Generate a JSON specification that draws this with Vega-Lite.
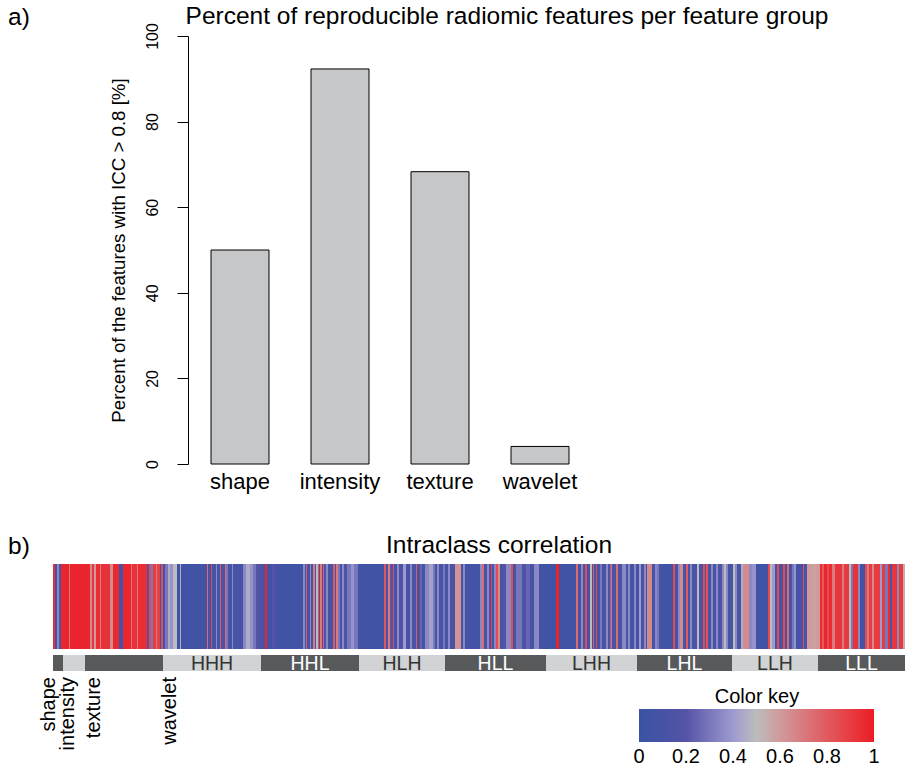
{
  "$schema": "https://vega.github.io/schema/vega-lite/v6.json",
  "padding": {"left": 8, "top": 4, "right": 0, "bottom": 0},
  "autosize": {"type": "pad"},
  "background": "white",
  "spacing": 41,
  "config": {"font": "Liberation Sans", "view": {"stroke": null}},
  "datasets": {
    "bars": [
      {"group": "shape", "pct": 50.0},
      {"group": "intensity", "pct": 92.3},
      {"group": "texture", "pct": 68.3},
      {"group": "wavelet", "pct": 4.1}
    ],
    "groups": [
      {"name": "shape", "s": 0, "e": 10, "mid": 5, "shade": "dark"},
      {"name": "intensity", "s": 10, "e": 32, "mid": 21, "shade": "light"},
      {"name": "texture", "s": 32, "e": 110, "mid": 71, "shade": "dark"},
      {"name": "HHH", "s": 110, "e": 208, "mid": 159, "shade": "light"},
      {"name": "HHL", "s": 208, "e": 306, "mid": 257, "shade": "dark"},
      {"name": "HLH", "s": 306, "e": 392, "mid": 349, "shade": "light"},
      {"name": "HLL", "s": 392, "e": 493, "mid": 442.5, "shade": "dark"},
      {"name": "LHH", "s": 493, "e": 584, "mid": 538.5, "shade": "light"},
      {"name": "LHL", "s": 584, "e": 679, "mid": 631.5, "shade": "dark"},
      {"name": "LLH", "s": 679, "e": 765, "mid": 722, "shade": "light"},
      {"name": "LLL", "s": 765, "e": 852, "mid": 808.5, "shade": "dark"}
    ],
    "cats": [
      {"name": "shape", "pos": -4},
      {"name": "intensity", "pos": 15},
      {"name": "texture", "pos": 41},
      {"name": "wavelet", "pos": 117}
    ],
    "icc": [
      {"s":0,"e":2,"icc":0.95},{"s":2,"e":4,"icc":0.08},{"s":4,"e":6,"icc":0.35},{"s":6,"e":8,"icc":0.1},
      {"s":8,"e":16,"icc":0.97},{"s":16,"e":17,"icc":0.7},{"s":17,"e":37,"icc":0.97},{"s":37,"e":39,"icc":0.65},
      {"s":39,"e":41,"icc":0.92},{"s":41,"e":43,"icc":0.6},{"s":43,"e":47,"icc":0.95},{"s":47,"e":48,"icc":0.7},
      {"s":48,"e":57,"icc":0.93},{"s":57,"e":60,"icc":0.65},{"s":60,"e":66,"icc":0.96},{"s":66,"e":70,"icc":0.06},
      {"s":70,"e":78,"icc":0.97},{"s":78,"e":79,"icc":0.72},{"s":79,"e":84,"icc":0.93},{"s":84,"e":85,"icc":0.7},
      {"s":85,"e":94,"icc":0.95},{"s":94,"e":96,"icc":0.15},{"s":96,"e":98,"icc":0.85},{"s":98,"e":100,"icc":0.3},
      {"s":100,"e":103,"icc":0.9},{"s":103,"e":104,"icc":0.7},{"s":104,"e":107,"icc":0.88},{"s":107,"e":108,"icc":0.1},
      {"s":108,"e":110,"icc":0.85},{"s":110,"e":112,"icc":0.08},{"s":112,"e":115,"icc":0.3},{"s":115,"e":117,"icc":0.45},
      {"s":117,"e":120,"icc":0.38},{"s":120,"e":124,"icc":0.5},{"s":124,"e":127,"icc":0.06},{"s":127,"e":128,"icc":0.45},
      {"s":128,"e":154,"icc":0.05},{"s":154,"e":155,"icc":0.75},{"s":155,"e":158,"icc":0.08},{"s":158,"e":159,"icc":0.85},
      {"s":159,"e":163,"icc":0.1},{"s":163,"e":164,"icc":0.35},{"s":164,"e":167,"icc":0.1},{"s":167,"e":168,"icc":0.8},
      {"s":168,"e":172,"icc":0.12},{"s":172,"e":173,"icc":0.75},{"s":173,"e":175,"icc":0.3},{"s":175,"e":179,"icc":0.1},
      {"s":179,"e":180,"icc":0.35},{"s":180,"e":190,"icc":0.1},{"s":190,"e":193,"icc":0.35},{"s":193,"e":197,"icc":0.45},
      {"s":197,"e":200,"icc":0.38},{"s":200,"e":203,"icc":0.3},{"s":203,"e":207,"icc":0.2},{"s":207,"e":212,"icc":0.1},
      {"s":212,"e":214,"icc":0.97},{"s":214,"e":219,"icc":0.06},{"s":219,"e":222,"icc":0.2},{"s":222,"e":250,"icc":0.06},
      {"s":250,"e":252,"icc":0.35},{"s":252,"e":253,"icc":0.1},{"s":253,"e":254,"icc":0.8},{"s":254,"e":257,"icc":0.1},
      {"s":257,"e":258,"icc":0.35},{"s":258,"e":260,"icc":0.1},{"s":260,"e":262,"icc":0.7},{"s":262,"e":263,"icc":0.1},
      {"s":263,"e":265,"icc":0.5},{"s":265,"e":266,"icc":0.85},{"s":266,"e":267,"icc":0.1},{"s":267,"e":269,"icc":0.7},
      {"s":269,"e":270,"icc":0.1},{"s":270,"e":271,"icc":0.8},{"s":271,"e":273,"icc":0.2},{"s":273,"e":275,"icc":0.35},
      {"s":275,"e":280,"icc":0.1},{"s":280,"e":282,"icc":0.8},{"s":282,"e":283,"icc":0.1},{"s":283,"e":285,"icc":0.7},
      {"s":285,"e":287,"icc":0.3},{"s":287,"e":289,"icc":0.1},{"s":289,"e":291,"icc":0.35},{"s":291,"e":294,"icc":0.15},
      {"s":294,"e":298,"icc":0.3},{"s":298,"e":301,"icc":0.38},{"s":301,"e":305,"icc":0.3},{"s":305,"e":331,"icc":0.05},
      {"s":331,"e":333,"icc":0.82},{"s":333,"e":335,"icc":0.1},{"s":335,"e":337,"icc":0.7},{"s":337,"e":340,"icc":0.2},
      {"s":340,"e":341,"icc":0.85},{"s":341,"e":344,"icc":0.1},{"s":344,"e":346,"icc":0.35},{"s":346,"e":350,"icc":0.15},
      {"s":350,"e":353,"icc":0.4},{"s":353,"e":357,"icc":0.1},{"s":357,"e":359,"icc":0.35},{"s":359,"e":363,"icc":0.12},
      {"s":363,"e":364,"icc":0.8},{"s":364,"e":367,"icc":0.1},{"s":367,"e":369,"icc":0.25},{"s":369,"e":372,"icc":0.1},
      {"s":372,"e":376,"icc":0.35},{"s":376,"e":380,"icc":0.42},{"s":380,"e":382,"icc":0.3},{"s":382,"e":384,"icc":0.1},
      {"s":384,"e":386,"icc":0.35},{"s":386,"e":390,"icc":0.1},{"s":390,"e":392,"icc":0.3},{"s":392,"e":395,"icc":0.1},
      {"s":395,"e":397,"icc":0.35},{"s":397,"e":402,"icc":0.12},{"s":402,"e":408,"icc":0.62},{"s":408,"e":410,"icc":0.1},
      {"s":410,"e":412,"icc":0.35},{"s":412,"e":427,"icc":0.08},{"s":427,"e":429,"icc":0.35},{"s":429,"e":431,"icc":0.75},
      {"s":431,"e":434,"icc":0.1},{"s":434,"e":436,"icc":0.35},{"s":436,"e":438,"icc":0.1},{"s":438,"e":439,"icc":0.88},
      {"s":439,"e":441,"icc":0.1},{"s":441,"e":443,"icc":0.35},{"s":443,"e":445,"icc":0.85},{"s":445,"e":447,"icc":0.65},
      {"s":447,"e":450,"icc":0.1},{"s":450,"e":453,"icc":0.2},{"s":453,"e":458,"icc":0.35},{"s":458,"e":460,"icc":0.85},
      {"s":460,"e":463,"icc":0.1},{"s":463,"e":469,"icc":0.3},{"s":469,"e":473,"icc":0.15},{"s":473,"e":477,"icc":0.25},
      {"s":477,"e":481,"icc":0.1},{"s":481,"e":486,"icc":0.35},{"s":486,"e":503,"icc":0.06},{"s":503,"e":506,"icc":0.98},
      {"s":506,"e":523,"icc":0.06},{"s":523,"e":525,"icc":0.75},{"s":525,"e":528,"icc":0.1},{"s":528,"e":530,"icc":0.35},
      {"s":530,"e":532,"icc":0.1},{"s":532,"e":534,"icc":0.85},{"s":534,"e":537,"icc":0.1},{"s":537,"e":539,"icc":0.5},
      {"s":539,"e":540,"icc":0.1},{"s":540,"e":541,"icc":0.8},{"s":541,"e":543,"icc":0.1},{"s":543,"e":544,"icc":0.85},
      {"s":544,"e":547,"icc":0.1},{"s":547,"e":549,"icc":0.3},{"s":549,"e":553,"icc":0.1},{"s":553,"e":555,"icc":0.35},
      {"s":555,"e":557,"icc":0.1},{"s":557,"e":558,"icc":0.85},{"s":558,"e":559,"icc":0.35},{"s":559,"e":563,"icc":0.1},
      {"s":563,"e":565,"icc":0.75},{"s":565,"e":569,"icc":0.1},{"s":569,"e":573,"icc":0.35},{"s":573,"e":575,"icc":0.1},
      {"s":575,"e":577,"icc":0.35},{"s":577,"e":581,"icc":0.1},{"s":581,"e":583,"icc":0.35},{"s":583,"e":586,"icc":0.1},
      {"s":586,"e":588,"icc":0.4},{"s":588,"e":591,"icc":0.1},{"s":591,"e":593,"icc":0.35},{"s":593,"e":594,"icc":0.1},
      {"s":594,"e":599,"icc":0.65},{"s":599,"e":602,"icc":0.1},{"s":602,"e":604,"icc":0.35},{"s":604,"e":606,"icc":0.3},
      {"s":606,"e":609,"icc":0.1},{"s":609,"e":620,"icc":0.06},{"s":620,"e":622,"icc":0.85},{"s":622,"e":625,"icc":0.1},
      {"s":625,"e":627,"icc":0.35},{"s":627,"e":630,"icc":0.65},{"s":630,"e":633,"icc":0.1},{"s":633,"e":635,"icc":0.8},
      {"s":635,"e":637,"icc":0.1},{"s":637,"e":639,"icc":0.35},{"s":639,"e":644,"icc":0.1},{"s":644,"e":646,"icc":0.5},
      {"s":646,"e":650,"icc":0.1},{"s":650,"e":652,"icc":0.85},{"s":652,"e":653,"icc":0.1},{"s":653,"e":655,"icc":0.82},
      {"s":655,"e":658,"icc":0.1},{"s":658,"e":660,"icc":0.35},{"s":660,"e":663,"icc":0.1},{"s":663,"e":665,"icc":0.35},
      {"s":665,"e":669,"icc":0.15},{"s":669,"e":671,"icc":0.35},{"s":671,"e":673,"icc":0.5},{"s":673,"e":675,"icc":0.35},
      {"s":675,"e":680,"icc":0.1},{"s":680,"e":682,"icc":0.5},{"s":682,"e":684,"icc":0.35},{"s":684,"e":688,"icc":0.1},
      {"s":688,"e":690,"icc":0.45},{"s":690,"e":696,"icc":0.65},{"s":696,"e":699,"icc":0.35},{"s":699,"e":703,"icc":0.38},
      {"s":703,"e":715,"icc":0.06},{"s":715,"e":717,"icc":0.85},{"s":717,"e":719,"icc":0.5},{"s":719,"e":722,"icc":0.4},
      {"s":722,"e":724,"icc":0.1},{"s":724,"e":726,"icc":0.85},{"s":726,"e":730,"icc":0.1},{"s":730,"e":732,"icc":0.85},
      {"s":732,"e":734,"icc":0.1},{"s":734,"e":736,"icc":0.75},{"s":736,"e":739,"icc":0.1},{"s":739,"e":741,"icc":0.3},
      {"s":741,"e":743,"icc":0.38},{"s":743,"e":745,"icc":0.1},{"s":745,"e":750,"icc":0.08},{"s":750,"e":751,"icc":0.85},
      {"s":751,"e":754,"icc":0.1},{"s":754,"e":759,"icc":0.6},{"s":759,"e":763,"icc":0.58},{"s":763,"e":767,"icc":0.6},
      {"s":767,"e":769,"icc":0.95},{"s":769,"e":771,"icc":0.8},{"s":771,"e":774,"icc":0.97},{"s":774,"e":776,"icc":0.85},
      {"s":776,"e":779,"icc":0.95},{"s":779,"e":782,"icc":0.7},{"s":782,"e":789,"icc":0.92},{"s":789,"e":791,"icc":0.7},
      {"s":791,"e":796,"icc":0.9},{"s":796,"e":798,"icc":0.5},{"s":798,"e":800,"icc":0.3},{"s":800,"e":805,"icc":0.93},
      {"s":805,"e":807,"icc":0.35},{"s":807,"e":812,"icc":0.08},{"s":812,"e":814,"icc":0.85},{"s":814,"e":816,"icc":0.7},
      {"s":816,"e":819,"icc":0.9},{"s":819,"e":821,"icc":0.65},{"s":821,"e":827,"icc":0.9},{"s":827,"e":829,"icc":0.4},
      {"s":829,"e":832,"icc":0.9},{"s":832,"e":835,"icc":0.3},{"s":835,"e":837,"icc":0.95},{"s":837,"e":839,"icc":0.1},
      {"s":839,"e":844,"icc":0.92},{"s":844,"e":846,"icc":0.35},{"s":846,"e":850,"icc":0.9},{"s":850,"e":852,"icc":0.55}
    ]
  },
  "vconcat": [
    {
      "width": 558,
      "height": 428,
      "title": {"text": "Percent of reproducible radiomic features per feature group", "fontSize": 24.5, "fontWeight": "normal", "frame": "group", "dx": 175, "offset": -24.5, "color": "#000000"},
      "layer": [
        {
          "data": {"name": "bars"},
          "mark": {"type": "bar", "fill": "#c6c7c9", "stroke": "#000000", "strokeWidth": 1},
          "encoding": {
            "x": {
              "field": "group", "type": "nominal", "sort": null,
              "scale": {"paddingInner": 0.42, "paddingOuter": 1, "align": 0.79},
              "axis": {"title": null, "domain": false, "ticks": false, "labelFontSize": 22, "labelPadding": 7, "labelAngle": 0, "labelColor": "#000000"}
            },
            "y": {
              "field": "pct", "type": "quantitative",
              "scale": {"domain": [0, 100], "nice": false},
              "axis": {
                "title": "Percent of the features with ICC > 0.8 [%]", "titleFontSize": 18.7, "titleFontWeight": "normal", "titleColor": "#000000", "titlePadding": 16,
                "values": [0, 20, 40, 60, 80, 100], "grid": false, "offset": -135,
                "domainColor": "#000000", "tickColor": "#000000", "tickSize": 11,
                "labelFontSize": 16, "labelAngle": 270, "labelAlign": "center", "labelBaseline": "alphabetic", "labelPadding": 20,
                "labelColor": "#000000", "labelFlush": false, "labelOverlap": false, "labelBound": false
              }
            }
          }
        },
        {
          "data": {"values": [{"t": "a)"}]},
          "mark": {"type": "text", "align": "left", "baseline": "middle", "fontSize": 24.5, "color": "#000000"},
          "encoding": {"text": {"field": "t"}, "x": {"value": -45}, "y": {"value": -18}}
        }
      ]
    },
    {
      "bounds": "flush",
      "spacing": 6,
      "vconcat": [
        {
          "width": 852,
          "height": 85,
          "title": {"text": "Intraclass correlation", "fontSize": 24.5, "fontWeight": "normal", "frame": "group", "dx": 20, "offset": -24.5, "color": "#000000"},
          "layer": [
            {
              "data": {"name": "icc"},
              "mark": {"type": "rect"},
              "encoding": {
                "x": {"field": "s", "type": "quantitative", "scale": {"domain": [0, 852], "nice": false, "zero": false}, "axis": null},
                "x2": {"field": "e"},
                "color": {
                  "field": "icc", "type": "quantitative",
                  "scale": {"domain": [0, 0.2, 0.4, 0.5, 0.6, 0.8, 1], "range": ["#3953a4", "#5553a6", "#9d9ad0", "#bcbcbc", "#d09a9c", "#e05a5f", "#ed1c24"], "interpolate": "rgb"},
                  "legend": {
                    "orient": "none", "legendX": 586, "legendY": 651, "direction": "horizontal",
                    "gradientLength": 235, "gradientThickness": 33, "gradientStrokeWidth": 0,
                    "title": "Color key", "titleFontSize": 20, "titleFontWeight": "normal", "titleColor": "#000000", "titleAnchor": "middle", "titlePadding": 2,
                    "labelFontSize": 20, "labelColor": "#000000", "labelOffset": 5, "values": [0, 0.2, 0.4, 0.6, 0.8, 1], "labelAlign": "center", "format": "~g", "labelOverlap": false,
                    "encode": {"labels": {"update": {"align": {"value": "center"}}}}
                  }
                }
              }
            },
            {
              "data": {"values": [{"t": "b)"}]},
              "mark": {"type": "text", "align": "left", "baseline": "middle", "fontSize": 24.5, "color": "#000000"},
              "encoding": {"text": {"field": "t"}, "x": {"value": -45}, "y": {"value": -17}}
            }
          ]
        },
        {
          "width": 852,
          "height": 16,
          "layer": [
            {
              "data": {"name": "groups"},
              "mark": {"type": "rect"},
              "encoding": {
                "x": {"field": "s", "type": "quantitative", "scale": {"domain": [0, 852], "nice": false, "zero": false}, "axis": null},
                "x2": {"field": "e"},
                "fill": {"field": "shade", "type": "nominal", "scale": {"domain": ["dark", "light"], "range": ["#58595b", "#d1d3d4"]}, "legend": null}
              }
            },
            {
              "data": {"name": "groups"},
              "transform": [{"filter": "length(datum.name) === 3"}],
              "mark": {"type": "text", "fontSize": 19.5, "baseline": "middle", "align": "center", "dy": 1},
              "encoding": {
                "x": {"field": "mid", "type": "quantitative"},
                "text": {"field": "name"},
                "color": {"condition": {"test": "datum.shade === 'dark'", "value": "#ffffff"}, "value": "#333333"}
              }
            },
            {
              "data": {"name": "cats"},
              "mark": {"type": "text", "angle": 270, "align": "right", "baseline": "middle", "fontSize": 20, "dx": -14, "color": "#000000"},
              "encoding": {"x": {"field": "pos", "type": "quantitative"}, "text": {"field": "name"}}
            }
          ]
        }
      ]
    }
  ]
}
